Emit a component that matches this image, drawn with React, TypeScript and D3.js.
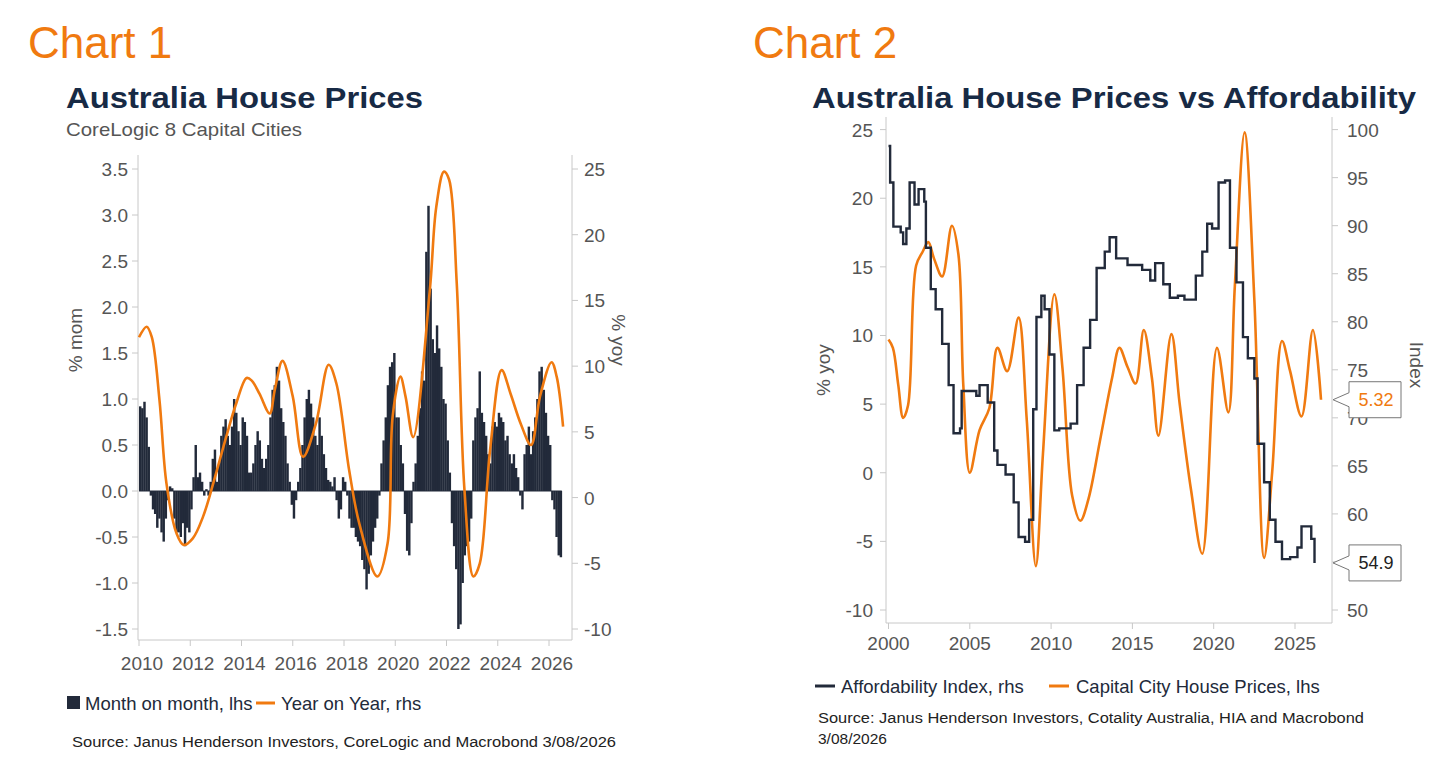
import React from "react";
import * as d3 from "d3";

const momStart = 2010;
const momValues = [
  0.92,0.9,0.97,0.8,0.48,-0.05,-0.2,-0.25,-0.4,-0.3,-0.45,-0.55,
  -0.3,-0.1,0.05,0.03,-0.3,-0.45,-0.45,-0.5,-0.35,-0.6,-0.4,-0.45,
  -0.2,0.15,0.5,0.15,0.2,0.1,-0.05,0.02,-0.05,0.1,0.35,0.45,
  0.1,0.3,0.6,0.7,0.78,0.6,0.5,0.7,1.0,0.85,0.65,0.5,
  0.8,0.75,0.6,0.2,0.2,0.3,0.5,0.65,0.55,0.35,0.25,0.35,
  0.5,0.8,1.1,1.15,1.35,1.2,0.9,0.75,0.6,0.3,0.1,-0.15,
  -0.3,-0.1,0.1,0.25,0.5,0.8,1.0,1.1,0.95,0.8,0.6,0.5,
  0.8,0.6,0.4,0.25,0.12,0.1,0.05,0.15,-0.1,-0.3,-0.2,0.15,
  0.1,-0.05,-0.3,-0.4,-0.4,-0.5,-0.55,-0.6,-0.75,-0.85,-1.07,-0.9,
  -0.7,-0.55,-0.4,-0.3,-0.05,0.3,0.55,0.8,1.15,1.35,1.4,1.5,
  0.8,0.8,0.5,0.3,-0.25,-0.65,-0.7,-0.35,0.1,0.3,0.6,0.9,
  1.3,1.2,2.6,3.1,2.2,1.65,1.5,1.8,1.55,1.35,1.0,0.95,
  0.55,0.2,-0.35,-0.6,-0.85,-1.5,-1.45,-1.0,-0.7,-0.6,-0.55,-0.3,
  0.55,0.8,0.9,1.3,0.85,0.75,0.6,0.4,0.3,0.7,0.75,0.7,
  0.85,0.8,0.75,0.55,0.6,0.4,0.3,0.4,0.25,0.15,-0.05,-0.2,
  0.4,0.5,0.7,0.4,0.65,0.8,1.0,1.3,1.35,1.1,0.85,0.6,
  0.5,-0.1,-0.2,-0.5,-0.7,-0.72,
];

const yoy1Dates = [2010.0,2010.3,2010.5,2010.8,2011.07,2011.46,2011.74,2012.1,2012.5,2012.9,2013.4,2013.8,2014.2,2014.4,2014.7,2015.1,2015.3,2015.6,2016.0,2016.4,2016.9,2017.4,2017.7,2018.2,2018.6,2019.3,2019.7,2019.9,2020.2,2020.4,2020.7,2021.35,2021.6,2021.9,2022.1,2022.4,2022.7,2023.05,2023.3,2023.7,2024.15,2024.5,2024.9,2025.3,2025.65,2026.1,2026.3,2026.55];
const yoy1Values = [12.2,13.0,12.2,7.4,1.1,-2.7,-3.6,-3.1,-1.45,1.1,4.6,7.2,9.1,8.9,7.9,6.4,8.2,10.4,7.7,3.1,5.6,10.1,8.7,2.1,-2.0,-6.0,-3.5,6.2,9.2,7.7,4.6,15.8,22.1,24.8,24.2,16.3,0.6,-6.0,-5.0,3.6,9.7,7.9,5.6,4.0,7.7,10.3,9.2,5.4];

const c1Years = [2010,2012,2014,2016,2018,2020,2022,2024,2026];
const c1Left = [3.5,3.0,2.5,2.0,1.5,1.0,0.5,0.0,-0.5,-1.0,-1.5];
const c1Right = [25,20,15,10,5,0,-5,-10];

const hpDates = [2000.0,2000.27,2000.6,2000.9,2001.2,2001.7,2002.1,2002.45,2002.8,2003.3,2003.9,2004.3,2004.6,2005.0,2005.6,2006.2,2006.7,2007.3,2008.0,2008.5,2009.06,2009.5,2010.2,2010.7,2011.3,2011.8,2012.3,2013.0,2013.75,2014.2,2014.7,2015.2,2015.7,2016.2,2016.6,2017.4,2017.9,2018.6,2019.3,2020.2,2020.9,2021.3,2021.9,2022.5,2023.1,2023.6,2024.2,2024.7,2025.4,2026.1,2026.6];
const hpValues = [9.7,9.1,6.4,4.0,4.9,15.1,16.1,16.8,15.6,14.3,18.0,15.9,6.4,0.0,3.1,4.7,9.1,7.4,11.3,3.9,-6.8,1.4,13.0,7.6,-1.7,-3.5,-1.9,2.3,6.9,9.1,7.7,6.5,10.4,6.9,2.7,10.1,5.1,-1.2,-5.9,9.1,4.4,13.6,24.8,12.6,-6.2,0.1,9.6,7.4,4.1,10.4,5.32];

const affDates = [2000.0,2000.1,2000.3,2000.75,2000.9,2001.1,2001.3,2001.6,2001.85,2002.2,2002.3,2002.6,2002.9,2003.3,2003.7,2004.0,2004.4,2004.5,2004.9,2005.4,2005.6,2006.1,2006.5,2006.7,2007.2,2007.7,2008.0,2008.4,2008.65,2008.9,2009.1,2009.4,2009.6,2009.9,2010.2,2010.5,2011.2,2011.6,2012.0,2012.4,2012.8,2013.3,2013.6,2014.0,2014.7,2015.6,2016.1,2016.4,2016.9,2017.3,2017.8,2018.2,2018.9,2019.3,2019.6,2019.9,2020.3,2020.7,2021.0,2021.4,2021.8,2022.1,2022.5,2022.7,2023.1,2023.45,2023.8,2024.2,2024.7,2025.15,2025.4,2025.8,2026.0,2026.2];
const affValues = [98.3,94.5,89.9,89.3,88.1,89.7,94.5,92.2,93.8,92.5,87.7,83.4,81.3,77.7,73.4,68.4,68.9,72.8,72.8,72.3,73.4,71.6,66.6,65.1,64.1,61.2,57.6,57.1,59.4,70.9,80.5,82.7,81.3,76.6,68.7,68.9,69.4,73.4,77.3,80.2,85.6,87.3,88.8,86.6,85.9,85.4,84.3,86.1,83.9,82.5,82.7,82.3,84.8,87.3,90.2,89.7,94.5,94.7,87.7,84.1,78.4,76.2,74.1,67.3,63.3,59.4,57.1,55.3,55.5,56.5,58.7,58.7,57.4,54.9];

const c2Years = [2000,2005,2010,2015,2020,2025];
const c2Left = [25,20,15,10,5,0,-5,-10];
const c2Right = [100,95,90,85,80,75,70,65,60,55,50];

const ORANGE = "#F07A10";
const NAVY = "#222A3A";
const GREY = "#555";
const AX = "#c8c8c8";
const FONT = "'Liberation Sans', Arial, sans-serif";

export default function App() {
  const x1 = d3.scaleLinear().domain([2010, 2026]).range([139, 549]);
  const yL1 = d3.scaleLinear().domain([-1.5, 3.5]).range([629, 169]);
  const yR1 = d3.scaleLinear().domain([-10, 25]).range([629, 169]);
  const barW = x1(2010 + 1 / 12) - x1(2010) + 0.3;
  const line1 = d3.line<number>().x((_, i) => x1(yoy1Dates[i])).y((v) => yR1(v)).curve(d3.curveCatmullRom.alpha(0.5));

  const x2 = d3.scaleLinear().domain([2000, 2025]).range([888.5, 1295]);
  const yL2 = d3.scaleLinear().domain([-10, 25]).range([610, 129.6]);
  const yR2 = d3.scaleLinear().domain([50, 100]).range([610, 129.6]);
  const hpLine = d3.line<number>().x((_, i) => x2(hpDates[i])).y((v) => yL2(v)).curve(d3.curveCatmullRom.alpha(0.5));
  const affLine = d3.line<number>().x((_, i) => x2(affDates[i])).y((v) => yR2(v)).curve(d3.curveStepAfter);

  const tick = { fill: GREY, fontSize: 19, fontFamily: FONT };
  const hpLast = hpValues[hpValues.length - 1];
  const affLast = affValues[affValues.length - 1];

  const callout = (yv: number, label: string, color: string) => {
    const px = 1333, bx = 1349, bw = 52, bh = 36;
    const top = yv - 18;
    return (
      <g>
        <path d={`M${bx},${top} L${bx + bw},${top} L${bx + bw},${top + bh} L${bx},${top + bh} L${bx},${yv + 7} L${px},${yv} L${bx},${yv - 7} Z`} fill="#fff" stroke="#777" strokeWidth={1} />
        <text x={bx + bw / 2 + 1} y={yv + 6} textAnchor="middle" fill={color} fontSize={18} fontFamily={FONT}>{label}</text>
      </g>
    );
  };

  return (
    <svg width={1439} height={764} style={{ position: "absolute", left: 0, top: 0, background: "#fff" }}>
      <rect width={1439} height={764} fill="#fff" />
      <text x={28} y={58} fill={ORANGE} fontSize={44} fontFamily={FONT}>Chart 1</text>
      <text x={66} y={108} fill="#172A45" fontSize={30} fontWeight="bold" fontFamily={FONT} textLength={357} lengthAdjust="spacingAndGlyphs">Australia House Prices</text>
      <text x={66} y={136} fill={GREY} fontSize={19} fontFamily={FONT} textLength={236} lengthAdjust="spacingAndGlyphs">CoreLogic 8 Capital Cities</text>

      <line x1={138} x2={138} y1={155} y2={640} stroke={AX} />
      <line x1={572} x2={572} y1={155} y2={640} stroke={AX} />
      <line x1={138} x2={572} y1={640} y2={640} stroke={AX} />
      {c1Left.map((v) => (
        <g key={"l1" + v}>
          <line x1={132} x2={138} y1={yL1(v)} y2={yL1(v)} stroke={AX} />
          <text x={128} y={yL1(v) + 7} textAnchor="end" {...tick}>{v.toFixed(1)}</text>
        </g>
      ))}
      {c1Right.map((v) => (
        <g key={"r1" + v}>
          <line x1={572} x2={578} y1={yR1(v)} y2={yR1(v)} stroke={AX} />
          <text x={584} y={yR1(v) + 7} textAnchor="start" {...tick}>{v}</text>
        </g>
      ))}
      {c1Years.map((v) => (
        <g key={"x1" + v}>
          <line x1={x1(v)} x2={x1(v)} y1={640} y2={646} stroke={AX} />
          <text x={x1(v) + 3} y={670} textAnchor="middle" {...tick}>{v}</text>
        </g>
      ))}
      <text transform="translate(82,340) rotate(-90)" textAnchor="middle" {...tick}>% mom</text>
      <text transform="translate(612,340) rotate(90)" textAnchor="middle" {...tick}>% yoy</text>

      {momValues.map((v, i) => {
        const d = momStart + i / 12;
        return <rect key={i} x={x1(d)} width={barW} y={Math.min(yL1(v), yL1(0))} height={Math.abs(yL1(v) - yL1(0))} fill={NAVY} />;
      })}
      <line x1={139} x2={x1(momStart + momValues.length / 12)} y1={yL1(0)} y2={yL1(0)} stroke={NAVY} strokeWidth={1} />
      <path d={line1(yoy1Values) || ""} fill="none" stroke={ORANGE} strokeWidth={2.6} />

      <rect x={67} y={696} width={13} height={13} fill={NAVY} />
      <text x={85} y={710} fill={NAVY} fontSize={18.5} fontFamily={FONT}>Month on month, lhs</text>
      <line x1={256} x2={275} y1={703} y2={703} stroke={ORANGE} strokeWidth={3} />
      <text x={281} y={710} fill={NAVY} fontSize={18.5} fontFamily={FONT}>Year on Year, rhs</text>
      <text x={72} y={747} fill="#222" fontSize={15.5} fontFamily={FONT} textLength={544} lengthAdjust="spacingAndGlyphs">Source: Janus Henderson Investors, CoreLogic and Macrobond  3/08/2026</text>

      <text x={753} y={58} fill={ORANGE} fontSize={44} fontFamily={FONT}>Chart 2</text>
      <text x={812} y={108} fill="#172A45" fontSize={30} fontWeight="bold" fontFamily={FONT} textLength={604} lengthAdjust="spacingAndGlyphs">Australia House Prices vs Affordability</text>

      <line x1={886} x2={886} y1={117} y2={623} stroke={AX} />
      <line x1={1332} x2={1332} y1={117} y2={623} stroke={AX} />
      <line x1={886} x2={1332} y1={623} y2={623} stroke={AX} />
      {c2Left.map((v) => (
        <g key={"l2" + v}>
          <line x1={880} x2={886} y1={yL2(v)} y2={yL2(v)} stroke={AX} />
          <text x={873} y={yL2(v) + 7} textAnchor="end" {...tick}>{v}</text>
        </g>
      ))}
      {c2Right.map((v) => (
        <g key={"r2" + v}>
          <line x1={1332} x2={1338} y1={yR2(v)} y2={yR2(v)} stroke={AX} />
          <text x={1347} y={yR2(v) + 7} textAnchor="start" {...tick}>{v}</text>
        </g>
      ))}
      {c2Years.map((v) => (
        <g key={"x2" + v}>
          <line x1={x2(v)} x2={x2(v)} y1={623} y2={629} stroke={AX} />
          <text x={x2(v)} y={650} textAnchor="middle" {...tick}>{v}</text>
        </g>
      ))}
      <text transform="translate(830,370) rotate(-90)" textAnchor="middle" {...tick}>% yoy</text>
      <text transform="translate(1410,365) rotate(90)" textAnchor="middle" {...tick}>Index</text>

      <path d={hpLine(hpValues) || ""} fill="none" stroke={ORANGE} strokeWidth={2.6} />
      <path d={affLine(affValues) || ""} fill="none" stroke={NAVY} strokeWidth={2.4} />
      {callout(yL2(hpLast), hpLast.toFixed(2), ORANGE)}
      {callout(yR2(affLast), affLast.toFixed(1), "#222")}

      <line x1={815} x2={835} y1={686} y2={686} stroke={NAVY} strokeWidth={3} />
      <text x={841} y={693} fill={NAVY} fontSize={18.5} fontFamily={FONT}>Affordability Index, rhs</text>
      <line x1={1049} x2={1069} y1={686} y2={686} stroke={ORANGE} strokeWidth={3} />
      <text x={1076} y={693} fill={NAVY} fontSize={18.5} fontFamily={FONT}>Capital City House Prices, lhs</text>
      <text x={818} y={723} fill="#222" fontSize={15.5} fontFamily={FONT} textLength={546} lengthAdjust="spacingAndGlyphs">Source: Janus Henderson Investors, Cotality Australia, HIA and Macrobond</text>
      <text x={818} y={744} fill="#222" fontSize={15.5} fontFamily={FONT}>3/08/2026</text>
    </svg>
  );
}
